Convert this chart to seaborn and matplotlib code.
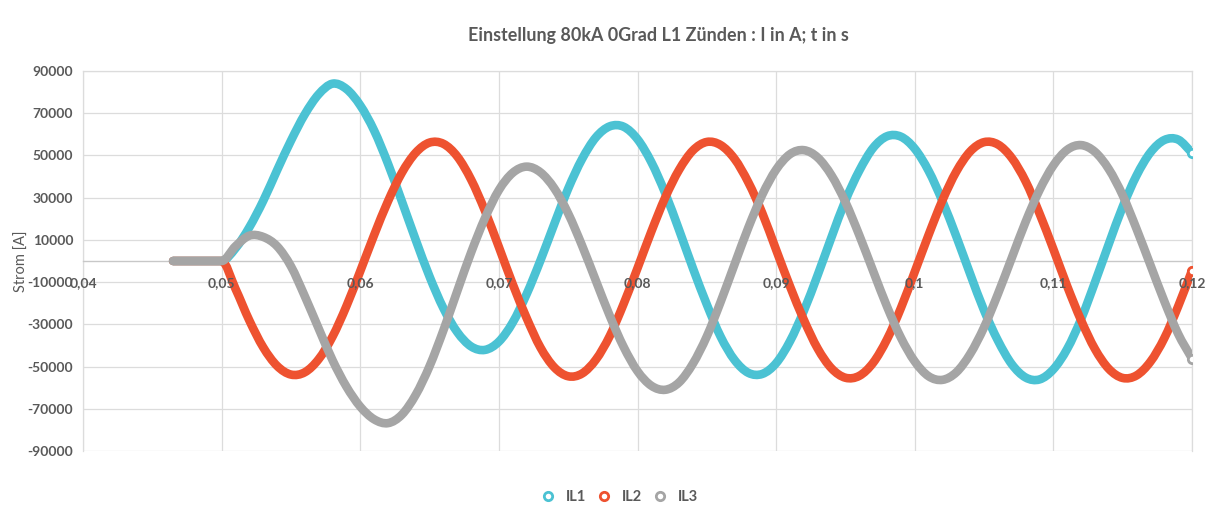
import numpy as np
import pandas as pd
import matplotlib
matplotlib.use("Agg")
import matplotlib.pyplot as plt
import seaborn as sns
from matplotlib.lines import Line2D
from matplotlib.path import Path
from matplotlib.patches import PathPatch
from matplotlib.transforms import offset_copy

# ---------------- data ----------------
title = "Einstellung 80kA 0Grad L1 Zünden : I in A; t in s"
y_label = "Strom [A]"
series_names = ["IL1", "IL2", "IL3"]

t_lead = [0.0465, 0.047, 0.048, 0.049]
t_main = [round(0.050 + 0.001 * i, 3) for i in range(71)]
time_s = t_lead + t_main

lead_zero = [0, 0, 0, 0]

IL1 = lead_zero + [
    0, 6000, 16000, 28500, 43000, 57000, 69500, 79000, 84000, 81500,
    73700, 61800, 46100, 28300, 10000, -7400, -22400, -33700, -40500, -42100,
    -38200, -29100, -15700, 300, 17600, 34300, 48300, 58600, 63800, 63600,
    57700, 46800, 32100, 14700, -3500, -20600, -35900, -46900, -53000, -53500,
    -48400, -38000, -23600, -6600, 11400, 28700, 42800, 53600, 59100, 58900,
    53200, 42700, 28300, 11600, -6200, -23400, -37700, -48900, -55200, -56100,
    -51300, -41600, -27500, -10100, 8100, 25700, 40500, 51400, 57300, 57500,
    51300,
]

IL2 = lead_zero + [
    0, -13200, -28200, -40900, -49700, -53800, -52700, -46500, -35800, -21400,
    -4800, 12300, 28300, 41800, 51300, 56100, 55500, 49500, 38500, 23700,
    6600, -11000, -27000, -41000, -50400, -54600, -53300, -46700, -35500, -20300,
    -3400, 14000, 30100, 43200, 52400, 56400, 54900, 48400, 37200, 22700,
    5300, -12000, -27900, -41500, -50900, -55300, -54400, -48200, -37100, -22300,
    -5100, 12400, 28800, 42400, 51900, 56300, 55200, 48800, 37700, 22500,
    5600, -12000, -28100, -41700, -51100, -55400, -54200, -47700, -36600, -21500,
    -4500,
]

IL3 = lead_zero + [
    0, 7000, 12000, 11400, 7000, -2500, -16700, -32000, -47000, -59500,
    -69000, -75000, -76800, -72800, -63400, -49800, -32800, -14200, 4100, 20400,
    33600, 41800, 44700, 42000, 34400, 22500, 7300, -9400, -26000, -40700,
    -52200, -59100, -61000, -57500, -48600, -35700, -19300, -1600, 15900, 31400,
    43300, 50600, 52500, 49000, 40500, 27900, 12200, -4800, -21600, -36300,
    -47600, -54600, -56300, -52700, -44000, -31400, -15600, 1500, 18600, 33600,
    45300, 52700, 54900, 51700, 43500, 31100, 15200, -1900, -19000, -34500,
    -46200,
]

x_ticks = [0.04, 0.05, 0.06, 0.07, 0.08, 0.09, 0.10, 0.11, 0.12]
x_tick_labels = ["0,04", "0,05", "0,06", "0,07", "0,08", "0,09", "0,1", "0,11", "0,12"]
y_ticks = [-90000, -70000, -50000, -30000, -10000, 10000, 30000, 50000, 70000, 90000]

colors = {"IL1": "#4BC2D3", "IL2": "#EE5230", "IL3": "#A5A5A5"}
text_color = "#595959"
grid_color = "#DCDCDC"


def smooth_path(x, y):
    """Smooth cubic Hermite/Bezier path through the data points
    (flat tangent where the curve leaves a flat stretch)."""
    x = np.asarray(x, float)
    y = np.asarray(y, float)
    n = len(x)
    m = np.zeros(n)
    for i in range(n):
        if i == 0:
            m[i] = (y[1] - y[0]) / (x[1] - x[0])
        elif i == n - 1:
            m[i] = (y[-1] - y[-2]) / (x[-1] - x[-2])
        else:
            dl = y[i] - y[i - 1]
            dr = y[i + 1] - y[i]
            if dl == 0 or dr == 0:
                m[i] = 0.0
            else:
                m[i] = (y[i + 1] - y[i - 1]) / (x[i + 1] - x[i - 1])
    verts = [(x[0], y[0])]
    codes = [Path.MOVETO]
    for i in range(n - 1):
        h = x[i + 1] - x[i]
        c1 = (x[i] + h / 3, y[i] + m[i] * h / 3)
        c2 = (x[i + 1] - h / 3, y[i + 1] - m[i + 1] * h / 3)
        verts += [c1, c2, (x[i + 1], y[i + 1])]
        codes += [Path.CURVE4] * 3
    return Path(verts, codes)


# ---------------- plotting ----------------
sns.set_theme(style="white")
plt.rcParams["font.family"] = ["Lato", "DejaVu Sans"]

df = pd.DataFrame({
    "t": time_s * 3,
    "I": IL1 + IL2 + IL3,
    "series": sum([[n] * len(time_s) for n in series_names], []),
})

fig, ax = plt.subplots(figsize=(12.12, 5.26), dpi=100)
fig.subplots_adjust(left=0.0685, right=0.9835, top=0.865, bottom=0.1426)

sns.lineplot(data=df, x="t", y="I", hue="series", hue_order=series_names,
             palette=colors, linewidth=6, estimator=None, sort=False,
             legend=False, ax=ax, zorder=3)

# render each seaborn line as a smoothed curve (like Excel's smoothed scatter)
for line in list(ax.lines):
    xy = line.get_xydata()
    patch = PathPatch(smooth_path(xy[:, 0], xy[:, 1]), fill=False,
                      edgecolor=line.get_color(), lw=6.2, capstyle="round",
                      joinstyle="round", zorder=3)
    ax.add_patch(patch)
    line.set_visible(False)

vals = {"IL1": IL1, "IL2": IL2, "IL3": IL3}
for n in series_names:
    ax.plot(time_s[-1], vals[n][-1], marker="o", ls="none", mfc="white",
            mec=colors[n], mew=2, ms=6, zorder=6)

ax.set_xlim(0.04, 0.12)
ax.set_ylim(-90000, 90000)
ax.set_xticks(x_ticks)
ax.set_xticklabels([])
ax.set_yticks(y_ticks)
ax.set_yticklabels([str(v) for v in y_ticks])

ax.grid(True, color=grid_color, lw=0.9, zorder=0)
ax.set_axisbelow(True)
for s in ["top", "right", "left", "bottom"]:
    ax.spines[s].set_color(grid_color)
    ax.spines[s].set_linewidth(0.9)
ax.spines["bottom"].set_position(("data", 0))
ax.spines["bottom"].set_color("#C8C8C8")
ax.spines["bottom"].set_linewidth(1.0)

ax.tick_params(axis="both", length=0, labelsize=10, labelcolor=text_color)
ax.tick_params(axis="y", pad=7)
for lab in ax.get_yticklabels():
    lab.set_fontweight("bold")

# x tick labels drawn on top of the curves, just below the zero line
lab_tr = offset_copy(ax.transData, fig=fig, x=0, y=-22, units="dots")
for xv, lab in zip(x_ticks, x_tick_labels):
    ax.text(xv, 0, lab, transform=lab_tr, ha="center", va="center",
            fontsize=10, fontweight="bold", color=text_color, zorder=10,
            clip_on=False)

ax.set_xlabel("")
ax.set_ylabel(y_label, color=text_color, fontsize=10.5)
ax.yaxis.set_label_coords(-0.0487, 0.5)

fig.text(0.543, 0.933, title, ha="center", va="center", fontsize=12.9,
         fontweight="bold", color=text_color)

handles = [Line2D([], [], marker="o", ls="none", mfc="white", mec=colors[n],
                  mew=2, ms=6) for n in series_names]
fig.legend(handles, series_names, loc="center", bbox_to_anchor=(0.508, 0.055),
           ncol=3, frameon=False, prop={"size": 10.5, "weight": "bold"},
           labelcolor=text_color, handletextpad=0.2, columnspacing=0.25)

fig.savefig("out.png", dpi=100)
